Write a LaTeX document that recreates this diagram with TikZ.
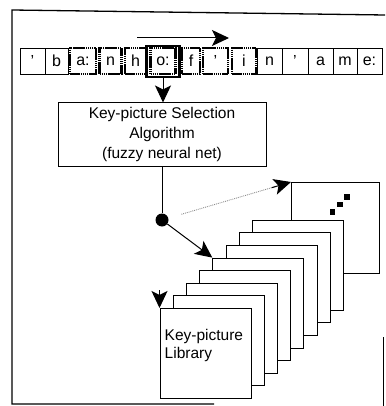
\documentclass[tikz,border=0pt]{standalone}
\usepackage{fontspec}
\setmainfont{Liberation Sans}
\usetikzlibrary{arrows.meta,calc}

\begin{document}
\begin{tikzpicture}[x=1pt,y=-1pt,
  cbox/.style={draw, line width=0.9pt, inner sep=0pt, minimum height=26pt,
    font=\fontsize{16}{16}\selectfont},
  hl/.style={line width=2.4pt, dash pattern=on 1.6pt off 0.5pt},
  card/.style={draw, fill=white, line width=1pt, inner sep=0pt,
    minimum width=91pt, minimum height=90pt, anchor=north west},
  arr/.style={line width=1pt,
    -{Stealth[length=17pt,width=16pt,inset=4pt,color=black]}},
  lbl/.style={font=\fontsize{15.5}{20}\selectfont}
]
\useasboundingbox (0,0) rectangle (385,406);

% outer frame
\draw[line width=1.3pt] (385,15) -- (12,10) -- (12,404) -- (214,404);
\draw[line width=1pt] (383,337) -- (383,406);

% phoneme string
\node[cbox, minimum width=25pt] (c1)  at (32.5,61)  {'};
\node[cbox, minimum width=23pt] (c2)  at (56.5,61)  {b};
\node[cbox, hl, minimum width=26pt] (c3)  at (83,61)    {a:};
\node[cbox, hl, minimum width=22pt] (c4)  at (110.5,61) {n};
\node[cbox, hl, minimum width=21pt] (c5)  at (135.5,61) {h};
\node[cbox, hl, minimum width=25pt, minimum height=26pt] (c6) at (163,61) {o:};
\node[draw, line width=2.2pt, inner sep=0pt, minimum width=33pt, minimum height=31pt] (c6o) at (163,61.25) {};
\node[cbox, hl, minimum width=18pt] (c7)  at (191,61)   {f};
\node[cbox, hl, minimum width=25pt] (c8)  at (215.5,61) {'};
\node[cbox, hl, minimum width=24pt] (c9)  at (244,61)   {i};
\node[cbox, minimum width=25pt] (c10) at (269.5,61) {n};
\node[cbox, minimum width=26pt] (c11) at (295,61)   {'};
\node[cbox, minimum width=25pt] (c12) at (320.5,61) {a};
\node[cbox, minimum width=24pt] (c13) at (345,61)   {m};
\node[cbox, minimum width=25pt] (c14) at (369.5,61) {e:};

% reading direction
\coordinate (ta) at (137,38);
\coordinate (tb) at (229,38);
\draw[arr] (ta) -- (tb);

% selection algorithm
\node[draw, line width=1pt, lbl, align=center, inner sep=0pt,
  minimum width=208pt, minimum height=63pt] (algo) at (162,134.5)
  {Key-picture Selection\\Algorithm\\(fuzzy neural net)};
\draw[arr] (c6o.south) -- (c6o.south |- algo.north);

% branching point
\node[circle, fill, inner sep=0pt, minimum size=13pt] (dot) at (162,220) {};
\draw[line width=1pt] (dot |- algo.south) -- (dot);

% library of key pictures
\node[card, minimum width=88pt, minimum height=91pt] (back) at (291,182) {};
\foreach \p/\q in {347/197, 340/204.5, 332.5/212}
  \fill (\p-2.7,\q-2.7) rectangle (\p+2.7,\q+2.7);
\foreach \k in {7,6,...,0}
  \node[card] (card\k) at ({159.5+13.2*\k},{308-12.6*\k}) {};
\node[align=left, anchor=north west, inner sep=0pt,
  font=\fontsize{15.5}{18}\selectfont] (libtxt) at (164.5,329)
  {Key-picture\\Library};

% selections
\draw[arr] (dot) -- (card4.north west);
\draw[densely dotted, black!45, line width=0.9pt]
  ($(dot)!0.15!(back.north west)$) -- ($(dot)!0.88!(back.north west)$);
\draw[arr] ($(dot)!0.85!(back.north west)$) -- (back.north west);
\coordinate (lt) at (159.5,290);
\draw[arr] (lt) -- (card0.north west);
\end{tikzpicture}
\end{document}
